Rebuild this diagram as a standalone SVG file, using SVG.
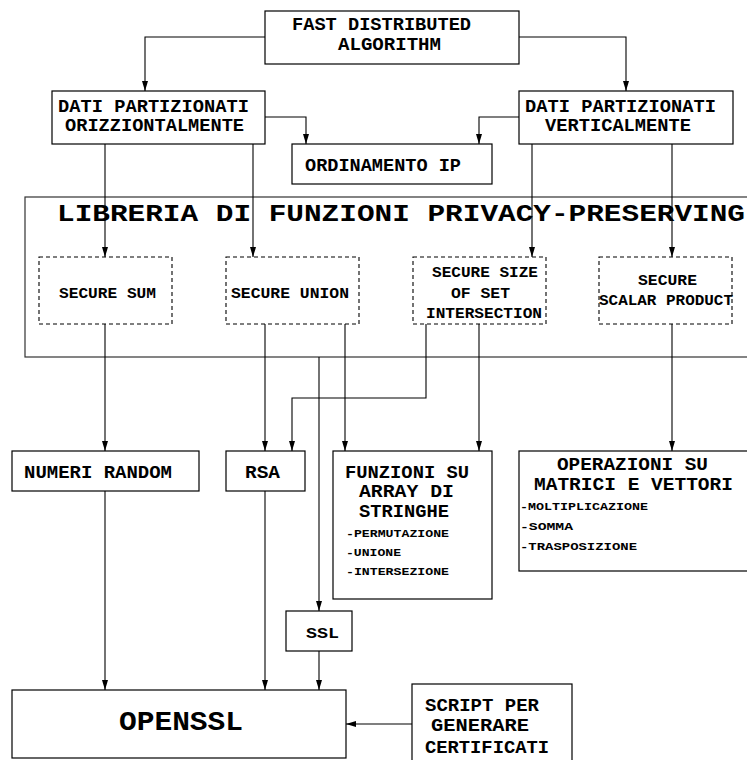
<svg xmlns="http://www.w3.org/2000/svg" width="747" height="760" viewBox="0 0 747 760">
  <style>
    .box { fill: #ffffff; stroke: #000000; stroke-width: 1.2; }
    .lib { fill: none; stroke: #333333; stroke-width: 1.2; }
    .dash { fill: none; stroke: #000000; stroke-width: 1.1; stroke-dasharray: 4 3; }
    .edge { fill: none; stroke: #000000; stroke-width: 1.1; marker-end: url(#arrow); }
    text { font-family: "Nimbus Mono PS", "Courier New", Courier, FreeMono, "Liberation Mono", monospace; font-weight: bold; fill: #000000; }
    .t18 { font-size: 18px; }
    .t14 { font-size: 14px; }
    .t10 { font-size: 10.5px; }
    .t24 { font-size: 24px; }
    .t27 { font-size: 27px; }
  </style>
  <defs>
    <marker id="arrow" viewBox="0 0 10 10" refX="10" refY="5" markerWidth="10" markerHeight="10" markerUnits="userSpaceOnUse" orient="auto">
      <path d="M0,2 L10,5 L0,8 Z" fill="#000000"/>
    </marker>
  </defs>

  <rect width="747" height="760" fill="#ffffff"/>

  <!-- library container -->
  <g id="libreria">
    <rect class="lib" x="25" y="197" width="740" height="160"/>
    <text class="t24" x="57" y="221" textLength="688" lengthAdjust="spacingAndGlyphs">LIBRERIA DI FUNZIONI PRIVACY-PRESERVING</text>
  </g>

  <!-- connectors -->
  <g id="connectors">
    <path class="edge" d="M265,37 H145 V91"/>
    <path class="edge" d="M519,37 H626 V91"/>
    <path class="edge" d="M265,117 H306 V144"/>
    <path class="edge" d="M519,117 H479 V144"/>
    <path class="edge" d="M105,144 V257"/>
    <path class="edge" d="M253,144 V257"/>
    <path class="edge" d="M532,144 V257"/>
    <path class="edge" d="M672,144 V257"/>
    <path class="edge" d="M105,324 V451"/>
    <path class="edge" d="M265,324 V451"/>
    <path class="edge" d="M345,324 V451"/>
    <path class="edge" d="M319,357 V611"/>
    <path class="edge" d="M426,324 V398 H292 V451"/>
    <path class="edge" d="M479,324 V451"/>
    <path class="edge" d="M672,324 V451"/>
    <path class="edge" d="M105,491 V690"/>
    <path class="edge" d="M265,491 V690"/>
    <path class="edge" d="M319,651 V690"/>
    <path class="edge" d="M412,724 H346"/>
  </g>

  <g id="fast">
    <rect class="box" x="265" y="11" width="254" height="53"/>
    <text class="t18" x="292" y="30" textLength="179" lengthAdjust="spacingAndGlyphs">FAST DISTRIBUTED</text>
    <text class="t18" x="338" y="50" textLength="103" lengthAdjust="spacingAndGlyphs">ALGORITHM</text>
  </g>

  <g id="orizzontale">
    <rect class="box" x="52" y="91" width="213" height="53"/>
    <text class="t18" x="58" y="112" textLength="191" lengthAdjust="spacingAndGlyphs">DATI PARTIZIONATI</text>
    <text class="t18" x="65" y="131" textLength="179" lengthAdjust="spacingAndGlyphs">ORIZZIONTALMENTE</text>
  </g>

  <g id="verticale">
    <rect class="box" x="519" y="91" width="214" height="53"/>
    <text class="t18" x="525" y="112" textLength="191" lengthAdjust="spacingAndGlyphs">DATI PARTIZIONATI</text>
    <text class="t18" x="545" y="131" textLength="146" lengthAdjust="spacingAndGlyphs">VERTICALMENTE</text>
  </g>

  <g id="ordinamento">
    <rect class="box" x="292" y="144" width="200" height="40"/>
    <text class="t18" x="305" y="171" textLength="156" lengthAdjust="spacingAndGlyphs">ORDINAMENTO IP</text>
  </g>

  <g id="secure-sum">
    <rect class="dash" x="39" y="257" width="133" height="67"/>
    <text class="t14" x="59" y="298" textLength="97" lengthAdjust="spacingAndGlyphs">SECURE SUM</text>
  </g>

  <g id="secure-union">
    <rect class="dash" x="226" y="257" width="133" height="67"/>
    <text class="t14" x="231" y="298" textLength="118" lengthAdjust="spacingAndGlyphs">SECURE UNION</text>
  </g>

  <g id="secure-size">
    <rect class="dash" x="413" y="257" width="133" height="67"/>
    <text class="t14" x="432" y="277" textLength="106" lengthAdjust="spacingAndGlyphs">SECURE SIZE</text>
    <text class="t14" x="451" y="298" textLength="59" lengthAdjust="spacingAndGlyphs">OF SET</text>
    <text class="t14" x="426" y="318" textLength="116" lengthAdjust="spacingAndGlyphs">INTERSECTION</text>
  </g>

  <g id="secure-scalar">
    <rect class="dash" x="599" y="257" width="133" height="67"/>
    <text class="t14" x="638" y="285" textLength="59" lengthAdjust="spacingAndGlyphs">SECURE</text>
    <text class="t14" x="599" y="305" textLength="134" lengthAdjust="spacingAndGlyphs">SCALAR PRODUCT</text>
  </g>

  <g id="numeri-random">
    <rect class="box" x="12" y="451" width="187" height="40"/>
    <text class="t18" x="24" y="478" textLength="148" lengthAdjust="spacingAndGlyphs">NUMERI RANDOM</text>
  </g>

  <g id="rsa">
    <rect class="box" x="226" y="451" width="79" height="40"/>
    <text class="t18" x="245" y="478" textLength="35" lengthAdjust="spacingAndGlyphs">RSA</text>
  </g>

  <g id="funzioni-stringhe">
    <rect class="box" x="333" y="451" width="159" height="148"/>
    <text class="t18" x="345" y="478" textLength="124" lengthAdjust="spacingAndGlyphs">FUNZIONI SU</text>
    <text class="t18" x="359" y="497" textLength="95" lengthAdjust="spacingAndGlyphs">ARRAY DI</text>
    <text class="t18" x="359" y="517" textLength="90" lengthAdjust="spacingAndGlyphs">STRINGHE</text>
    <text class="t10" x="346" y="537" textLength="103" lengthAdjust="spacingAndGlyphs">-PERMUTAZIONE</text>
    <text class="t10" x="346" y="556" textLength="55" lengthAdjust="spacingAndGlyphs">-UNIONE</text>
    <text class="t10" x="346" y="575" textLength="103" lengthAdjust="spacingAndGlyphs">-INTERSEZIONE</text>
  </g>

  <g id="operazioni-matrici">
    <rect class="box" x="519" y="451" width="240" height="120"/>
    <text class="t18" x="557" y="470" textLength="151" lengthAdjust="spacingAndGlyphs">OPERAZIONI SU</text>
    <text class="t18" x="534" y="490" textLength="199" lengthAdjust="spacingAndGlyphs">MATRICI E VETTORI</text>
    <text class="t10" x="520" y="510" textLength="128" lengthAdjust="spacingAndGlyphs">-MOLTIPLICAZIONE</text>
    <text class="t10" x="520" y="530" textLength="53" lengthAdjust="spacingAndGlyphs">-SOMMA</text>
    <text class="t10" x="520" y="550" textLength="117" lengthAdjust="spacingAndGlyphs">-TRASPOSIZIONE</text>
  </g>

  <g id="ssl">
    <rect class="box" x="286" y="611" width="66" height="40"/>
    <text class="t14" x="306" y="638" textLength="33" lengthAdjust="spacingAndGlyphs">SSL</text>
  </g>

  <g id="openssl">
    <rect class="box" x="12" y="690" width="334" height="68"/>
    <text class="t27" x="119" y="730" textLength="124" lengthAdjust="spacingAndGlyphs">OPENSSL</text>
  </g>

  <g id="script-certificati">
    <rect class="box" x="412" y="684" width="160" height="80"/>
    <text class="t18" x="425" y="711" textLength="114" lengthAdjust="spacingAndGlyphs">SCRIPT PER</text>
    <text class="t18" x="431" y="731" textLength="98" lengthAdjust="spacingAndGlyphs">GENERARE</text>
    <text class="t18" x="425" y="753" textLength="124" lengthAdjust="spacingAndGlyphs">CERTIFICATI</text>
  </g>
</svg>
